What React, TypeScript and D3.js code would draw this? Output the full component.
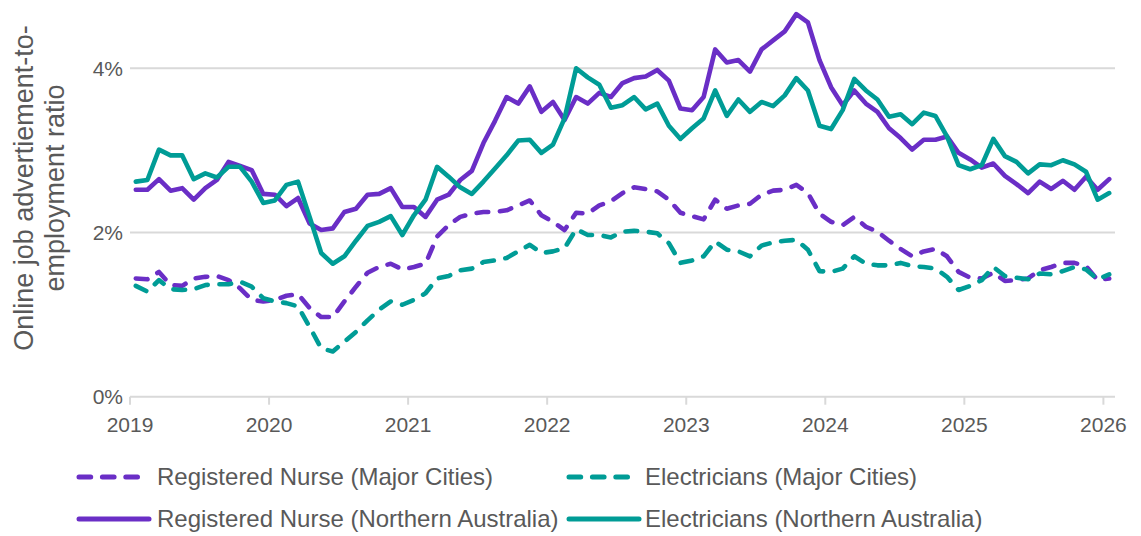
import React from 'react';
import * as d3 from 'd3';

const yearLabels = ['2019', '2020', '2021', '2022', '2023', '2024', '2025', '2026'];
const yTickValues = [0, 2, 4];
const yTitleLines = ['Online job advertiement-to-', 'employment ratio'];

// Monthly values, Jan 2019 .. Jan 2026 (85 months), percent
const nurseMajor = [
  1.44, 1.43, 1.52, 1.36, 1.35, 1.44, 1.46, 1.47, 1.42, 1.32, 1.18, 1.16,
  1.18, 1.23, 1.25, 1.08, 0.97, 0.97, 1.16, 1.34, 1.51, 1.58, 1.62, 1.55,
  1.58, 1.62, 1.95, 2.09, 2.19, 2.23, 2.25, 2.25, 2.27, 2.33, 2.39, 2.21,
  2.13, 2.03, 2.24, 2.23, 2.33, 2.38, 2.48, 2.55, 2.53, 2.50, 2.40, 2.24,
  2.20, 2.16, 2.40, 2.29, 2.33, 2.35, 2.46, 2.51, 2.52, 2.58, 2.48, 2.23,
  2.13, 2.09, 2.19, 2.07, 2.01, 1.90, 1.80, 1.71, 1.77, 1.80, 1.71, 1.52,
  1.45, 1.44, 1.51, 1.41, 1.42, 1.44, 1.54, 1.58, 1.63, 1.63, 1.59, 1.42,
  1.44,
];
const elecMajor = [
  1.35, 1.28, 1.42, 1.31, 1.30, 1.31, 1.36, 1.37, 1.37, 1.40, 1.34, 1.20,
  1.16, 1.14, 1.10, 0.85, 0.59, 0.55, 0.67, 0.79, 0.93, 1.06, 1.16, 1.12,
  1.18, 1.26, 1.44, 1.47, 1.54, 1.56, 1.64, 1.66, 1.69, 1.77, 1.85, 1.75,
  1.77, 1.81, 2.04, 1.97, 1.97, 1.94, 2.01, 2.02, 2.01, 1.99, 1.87, 1.63,
  1.66, 1.71, 1.89, 1.79, 1.77, 1.71, 1.84, 1.88, 1.90, 1.91, 1.79, 1.53,
  1.52, 1.56, 1.71, 1.62, 1.60, 1.60, 1.63, 1.59, 1.58, 1.56, 1.46, 1.30,
  1.35, 1.42, 1.58, 1.47, 1.45, 1.43, 1.50, 1.49, 1.53, 1.58, 1.55, 1.43,
  1.49,
];
const nurseNorth = [
  2.52, 2.52, 2.65, 2.51, 2.54, 2.40, 2.54, 2.64, 2.86, 2.81, 2.76, 2.47,
  2.46, 2.32, 2.42, 2.11, 2.03, 2.05, 2.25, 2.29, 2.46, 2.47, 2.54, 2.31,
  2.31, 2.19, 2.40, 2.46, 2.64, 2.75, 3.09, 3.36, 3.65, 3.57, 3.78, 3.47,
  3.59, 3.37, 3.65, 3.57, 3.70, 3.65, 3.82, 3.88, 3.90, 3.98, 3.85, 3.51,
  3.49, 3.65, 4.23, 4.07, 4.10, 3.96, 4.23, 4.34, 4.45, 4.66, 4.56, 4.10,
  3.77, 3.55, 3.73, 3.57, 3.47, 3.27, 3.15, 3.01, 3.13, 3.13, 3.17, 2.97,
  2.89, 2.79, 2.84, 2.69, 2.59, 2.48, 2.62, 2.53, 2.63, 2.52, 2.68, 2.52,
  2.65,
];
const elecNorth = [
  2.62, 2.64, 3.01, 2.94, 2.94, 2.65, 2.72, 2.67, 2.80, 2.80, 2.62, 2.36,
  2.39, 2.58, 2.62, 2.19, 1.75, 1.62, 1.71, 1.90, 2.08, 2.13, 2.20, 1.97,
  2.21, 2.40, 2.80, 2.68, 2.55, 2.47, 2.62, 2.78, 2.94, 3.12, 3.13, 2.97,
  3.07, 3.39, 4.00, 3.89, 3.80, 3.52, 3.55, 3.65, 3.50, 3.57, 3.30, 3.14,
  3.27, 3.39, 3.73, 3.42, 3.62, 3.47, 3.59, 3.54, 3.67, 3.88, 3.73, 3.30,
  3.26, 3.49, 3.87, 3.73, 3.62, 3.41, 3.44, 3.32, 3.46, 3.42, 3.17, 2.82,
  2.77, 2.82, 3.14, 2.93, 2.86, 2.72, 2.83, 2.82, 2.88, 2.83, 2.74, 2.40,
  2.48,
];

const seriesNames = [
  'Registered Nurse (Major Cities)',
  'Electricians (Major Cities)',
  'Registered Nurse (Northern Australia)',
  'Electricians (Northern Australia)',
];

const PURPLE = '#6A2EC6';
const TEAL = '#009C96';
const GRID = '#D9D9D9';
const TEXT = '#595959';
const FONT = '"Liberation Sans", Arial, sans-serif';
const DASH = '11.7 11.7';
const LW = 4.6;

export default function App() {
  const W = 1141;
  const H = 536;
  const x = d3.scaleLinear().domain([-0.5, 84.5]).range([130, 1115]);
  const y = d3.scaleLinear().domain([0, 4]).range([396.7, 68.3]);
  const line = d3
    .line<number>()
    .x((_, i) => x(i))
    .y((d) => y(d))
    .curve(d3.curveLinear);

  const series = [
    { name: seriesNames[0], data: nurseMajor, color: PURPLE, dashed: true },
    { name: seriesNames[1], data: elecMajor, color: TEAL, dashed: true },
    { name: seriesNames[2], data: nurseNorth, color: PURPLE, dashed: false },
    { name: seriesNames[3], data: elecNorth, color: TEAL, dashed: false },
  ];

  const legendPos = [
    { lx: 79, tx: 157, y: 477 },
    { lx: 569, tx: 645, y: 477 },
    { lx: 79, tx: 157, y: 519 },
    { lx: 569, tx: 645, y: 519 },
  ];

  return (
    <svg
      width={W}
      height={H}
      viewBox={`0 0 ${W} ${H}`}
      style={{ position: 'absolute', left: 0, top: 0, background: '#fff' }}
      fontFamily={FONT}
    >
      <rect width={W} height={H} fill="#fff" />
      {yTickValues.map((v) => (
        <g key={v}>
          <line x1={130} x2={1115} y1={y(v)} y2={y(v)} stroke={GRID} strokeWidth={2} />
          <text x={123} y={y(v)} dy="0.35em" textAnchor="end" fontSize={21} fill={TEXT}>
            {`${v}%`}
          </text>
        </g>
      ))}
      {yearLabels.map((lab, k) => {
        const xx = x(12 * k - 0.5);
        return (
          <g key={lab}>
            <line x1={xx} x2={xx} y1={y(0)} y2={y(0) + 8} stroke={GRID} strokeWidth={2} />
            <text x={xx} y={432} textAnchor="middle" fontSize={21} fill={TEXT}>
              {lab}
            </text>
          </g>
        );
      })}
      {yTitleLines.map((t, i) => (
        <text
          key={t}
          transform={`translate(${24 + i * 31}, 188) rotate(-90)`}
          textAnchor="middle"
          dy="0.35em"
          fontSize={27}
          fill={TEXT}
        >
          {t}
        </text>
      ))}
      {series.map((s) => (
        <path
          key={s.name}
          d={line(s.data) || ''}
          fill="none"
          stroke={s.color}
          strokeWidth={LW}
          strokeDasharray={s.dashed ? DASH : undefined}
          strokeLinecap="round"
          strokeLinejoin="round"
        />
      ))}
      {series.map((s, i) => {
        const p = legendPos[i];
        return (
          <g key={s.name}>
            <line
              x1={p.lx}
              x2={s.dashed ? p.lx + 65 : p.lx + 70}
              y1={p.y}
              y2={p.y}
              stroke={s.color}
              strokeWidth={5}
              strokeLinecap="round"
              strokeDasharray={s.dashed ? DASH : undefined}
            />
            <text x={p.tx} y={p.y} dy="0.35em" fontSize={24} fill={TEXT}>
              {s.name}
            </text>
          </g>
        );
      })}
    </svg>
  );
}
